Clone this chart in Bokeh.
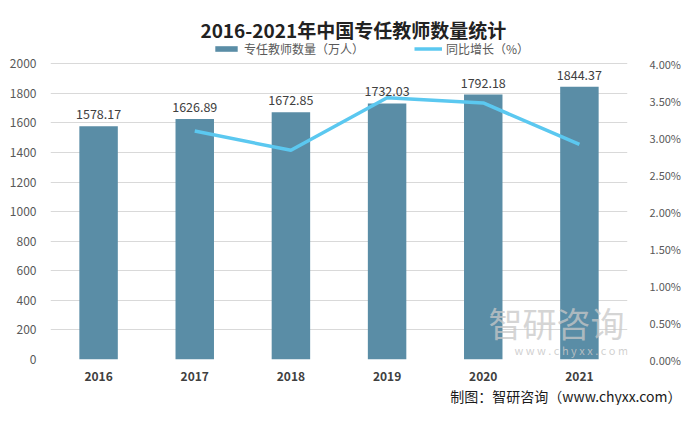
from bokeh.plotting import figure
from bokeh.models import (Range1d, LinearAxis, NumeralTickFormatter, Legend, LegendItem,
                          Label, Title, ColumnDataSource, FixedTicker)
from bokeh.core.properties import value
from bokeh.embed import file_html
from bokeh.resources import INLINE

years = ["2016", "2017", "2018", "2019", "2020", "2021"]
teachers = [1578.17, 1626.89, 1672.85, 1732.03, 1792.18, 1844.37]
growth_years = ["2017", "2018", "2019", "2020", "2021"]
growth_pct = [0.0309, 0.0283, 0.0354, 0.0347, 0.0291]
left_ticks = [0, 200, 400, 600, 800, 1000, 1200, 1400, 1600, 1800, 2000]
right_ticks = [0.0, 0.005, 0.01, 0.015, 0.02, 0.025, 0.03, 0.035, 0.04]

title_text = "2016-2021年中国专任教师数量统计"
source_text = "制图：智研咨询（www.chyxx.com）"
wm_big = "智研咨询"
wm_small = "w w w . c h y x x . c o m"

FONT = "Noto Sans CJK SC"
BAR = "#5A8DA6"
LINE = "#5BC8F0"

W, H = 684, 405
TOP_PX, BOT_PX = 64, 363       # pixel rows of the 2000 and 0 gridlines
FRAME_H = BOT_PX               # frame spans from canvas top to the zero line
ymax = 2000 * FRAME_H / (BOT_PX - TOP_PX)
pmax = 0.04 * FRAME_H / (BOT_PX - TOP_PX)
upp = 2000 / (BOT_PX - TOP_PX)  # data units per pixel


def yd(py):
    return (BOT_PX - py) * upp


def xd(px):
    return (px - 50) / 97.5


p = figure(x_range=years, y_range=Range1d(0, ymax), width=W, height=H,
           output_backend="svg", toolbar_location=None,
           min_border_left=50, min_border_right=W - 635, min_border_top=0,
           min_border_bottom=H - BOT_PX)
p.outline_line_color = None
p.background_fill_color = "white"
p.border_fill_color = "white"

p.extra_y_ranges = {"pct": Range1d(0, pmax)}

src = ColumnDataSource(dict(x=years, y=teachers, lab=[f"{v:.2f}" for v in teachers]))
bars = p.vbar(x="x", top="y", width=0.4, source=src, fill_color=BAR, line_color=None)
p.text(x="x", y="y", text="lab", source=src, text_align="center", text_baseline="bottom",
       y_offset=-7, text_font=value(FONT), text_font_size="12.5px", text_color="#404040")

line = p.line(growth_years, growth_pct, y_range_name="pct", line_color=LINE, line_width=3.5)

# axes
la = p.yaxis[0]
la.ticker = FixedTicker(ticks=left_ticks)
la.axis_line_color = None
la.major_tick_line_color = None
la.minor_tick_line_color = None
la.major_label_text_font = FONT
la.major_label_text_font_size = "12px"
la.major_label_text_color = "#595959"
la.major_label_standoff = 8

ra = LinearAxis(y_range_name="pct", formatter=NumeralTickFormatter(format="0.00%"),
                ticker=FixedTicker(ticks=right_ticks))
ra.axis_line_color = None
ra.major_tick_line_color = None
ra.minor_tick_line_color = None
ra.major_label_text_font = FONT
ra.major_label_text_font_size = "11px"
ra.major_label_text_color = "#595959"
ra.major_label_standoff = 16
p.add_layout(ra, "right")

xa = p.xaxis[0]
xa.axis_line_color = None
xa.major_tick_line_color = None
xa.minor_tick_line_color = None
xa.major_label_text_font = FONT
xa.major_label_text_font_size = "12px"
xa.major_label_text_font_style = "bold"
xa.major_label_text_color = "#404040"
xa.major_label_text_line_height = 1.0
xa.major_label_standoff = 6

p.xgrid.grid_line_color = None
p.ygrid.grid_line_color = "#D9D9D9"
p.ygrid.ticker = FixedTicker(ticks=left_ticks)

# watermark (kept inside the frame)
p.add_layout(Label(x=xd(632), y=yd(326), text=wm_big, text_font=FONT, text_font_size="34px",
                   text_color="#C8C8C8", text_alpha=0.75, text_align="right", text_baseline="middle"))
p.add_layout(Label(x=xd(578), y=yd(353), text=wm_small, text_font=FONT,
                   text_font_size="11px", text_color="#C8C8C8", text_alpha=0.85,
                   text_align="center", text_baseline="middle"))

# title
p.add_layout(Label(x=xd(357), y=yd(29), text=title_text, text_font=FONT, text_font_size="19px",
                   text_font_style="bold", text_color="#222222", text_align="center",
                   text_baseline="middle"))

# legend
legend = Legend(items=[LegendItem(label="专任教师数量（万人）", renderers=[bars]),
                       LegendItem(label="同比增长（%）", renderers=[line])],
                orientation="horizontal", location=(162, FRAME_H - 61),
                label_text_font=FONT, label_text_font_size="12px", label_text_color="#595959",
                glyph_width=28, glyph_height=7, spacing=50, padding=0, margin=0,
                label_standoff=4, border_line_color=None, background_fill_alpha=0)
p.add_layout(legend, "center")

# source line
p.add_layout(Title(text=source_text, align="right", text_font=FONT, text_font_size="14px",
                   text_font_style="normal", text_color="#1A1A1A", text_line_height=1.0,
                   offset=-54, standoff=0),
             "below")

open("out.html", "w").write(file_html(p, INLINE))
